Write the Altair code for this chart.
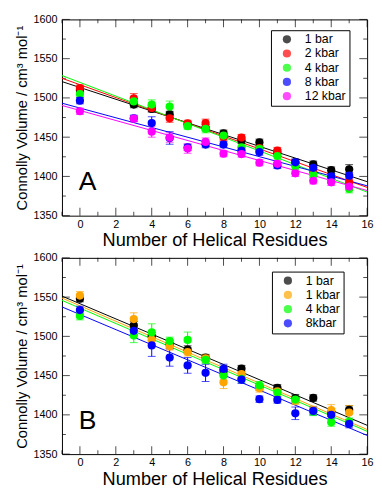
import altair as alt
import pandas as pd

# ---------------- data ----------------
residues = [0, 3, 4, 5, 6, 7, 8, 9, 10, 11, 12, 13, 14, 15]
fit_x = [-1, 16]

x_label_values = [0, 2, 4, 6, 8, 10, 12, 14, 16]
x_minor_values = [-1, 1, 3, 5, 7, 9, 11, 13, 15]
y_label_values = [1350, 1400, 1450, 1500, 1550, 1600]
y_minor_values = [1375, 1425, 1475, 1525, 1575]

# Panel A
a_series = ["1 bar", "2 kbar", "4 kbar", "8 kbar", "12 kbar"]
a_colors = ["#000000", "#ff0000", "#00ff00", "#0000ff", "#ff00ff"]
a_1bar = [1510, 1491.5, 1486, 1479, 1466, 1462, 1455, 1446, 1443.5, 1430, 1418, 1415.5, 1408, 1409]
a_2kbar = [1512.5, 1499.5, 1487, 1474, 1467.5, 1468, 1450, 1449.5, 1436, 1433, 1417, 1405, 1397, 1392.5]
a_4kbar = [1505, 1495.5, 1491.5, 1489, 1464, 1460.5, 1452, 1437, 1435, 1426, 1412.5, 1402, 1395, 1384]
a_8kbar = [1496.5, 1474, 1468, 1449, 1437, 1440.5, 1440.5, 1433, 1431, 1414, 1418, 1411, 1400, 1401]
a_12kbar = [1483, 1473.5, 1457, 1449.5, 1435.5, 1444, 1429, 1428.5, 1417.5, 1416, 1404, 1394.5, 1392.5, 1387]
a_err_1bar = [4, 4, 4, 4, 4, 4, 4, 4, 4, 4, 4, 4, 4, 6]
a_err_2kbar = [4, 6, 4, 5, 4, 5, 4, 4, 4, 4, 4, 4, 4, 4]
a_err_4kbar = [4, 5, 6, 7, 4, 5, 5, 7, 4, 4, 4, 4, 4, 5]
a_err_8kbar = [4, 4, 8, 8, 4, 4, 4, 4, 4, 4, 4, 4, 4, 4]
a_err_12kbar = [4, 4, 7, 6, 6, 5, 4, 4, 4, 4, 4, 4, 4, 4]
a_fit_start = [1520.8, 1525, 1528.5, 1493.3, 1490.4]
a_fit_end = [1393.3, 1386, 1380, 1388, 1382]

# Panel B
b_series = ["1 bar", "1 kbar", "4 kbar", "8kbar"]
b_colors = ["#000000", "#ffa500", "#00ff00", "#0000ff"]
b_1bar = [1548, 1514, 1500, 1490, 1483, 1473, 1456, 1459, 1435.5, 1434.5, 1421, 1421.5, 1403, 1406.5]
b_1kbar = [1552, 1522, 1496, 1487.5, 1480, 1472, 1441.5, 1452, 1434, 1430, 1418, 1406, 1406, 1403]
b_4kbar = [1526, 1501, 1505, 1494, 1495.5, 1470, 1450, 1446, 1437.5, 1428.5, 1419.5, 1404, 1390.5, 1391]
b_8kbar = [1533.5, 1507, 1488.5, 1473, 1463, 1453.5, 1458.5, 1445, 1420, 1419, 1402, 1405, 1400, 1388.5]
b_err_1bar = [4, 5, 5, 5, 5, 4, 5, 4, 4, 4, 5, 4, 5, 5]
b_err_1kbar = [5, 8, 5, 5, 5, 5, 8, 5, 5, 5, 5, 5, 7, 9]
b_err_4kbar = [5, 9, 11, 5, 10, 5, 6, 5, 5, 5, 5, 5, 5, 5]
b_err_8kbar = [5, 5, 14, 11, 10, 11, 6, 5, 4, 4, 8, 5, 5, 5]
b_fit_start = [1551.3, 1548.8, 1545.8, 1537.5]
b_fit_end = [1386.7, 1381.3, 1379, 1373.8]

y_title = "Connolly Volume / cm³ mol⁻¹"
x_title = "Number of Helical Residues"

W, H = 311, 200
FONT = "Liberation Sans"
MAJOR_LEN, MINOR_LEN = 8, 4


def make_panel(series, colors, values, errors, fit_start, fit_end, letter, leg_x, leg_y):
    rows = []
    for s, vals, errs in zip(series, values, errors):
        for x, v, e in zip(residues, vals, errs):
            rows.append({"series": s, "x": x, "y": v, "lo": v - e, "hi": v + e})
    pts = pd.DataFrame(rows)

    fit_rows = []
    for s, a, b in zip(series, fit_start, fit_end):
        fit_rows.append({"series": s, "x": fit_x[0], "y": a})
        fit_rows.append({"series": s, "x": fit_x[1], "y": b})
    fits = pd.DataFrame(fit_rows)

    xs = alt.Scale(domain=[fit_x[0], fit_x[1]], nice=False, zero=False)
    ys = alt.Scale(domain=[y_label_values[0], y_label_values[-1]], nice=False, zero=False)
    cs = alt.Scale(domain=series, range=colors)

    x_axis = alt.Axis(values=x_label_values, title=x_title, labelFlush=False, format="d",
                      labelPadding=3, titlePadding=1.5, labelFontSize=11, titleFontSize=18.5)
    y_axis = alt.Axis(values=y_label_values, title=y_title, labelFlush=False, format="d",
                      labelPadding=5, titlePadding=4, labelFontSize=11, titleFontSize=15)
    legend = alt.Legend(orient="none", legendX=leg_x, legendY=leg_y, title=None,
                        strokeColor="black", fillColor="white",
                        padding=3, symbolType="circle", symbolSize=70,
                        symbolOffset=7, labelOffset=12, rowPadding=1.5,
                        labelFontSize=12.5, labelFont=FONT, labelColor="black",
                        symbolStrokeWidth=0)

    X = alt.X("x:Q", scale=xs, axis=x_axis)
    Y = alt.Y("y:Q", scale=ys, axis=y_axis)
    C = alt.Color("series:N", scale=cs, legend=legend)

    # inward ticks on all four sides
    tick_layers = []
    for vals, ln in [(y_label_values, MAJOR_LEN), (y_minor_values, MINOR_LEN)]:
        for edge, sign in [(fit_x[0], 1), (fit_x[1], -1)]:
            df = pd.DataFrame({"x": [edge] * len(vals), "y": vals})
            tick_layers.append(
                alt.Chart(df).mark_tick(orient="horizontal", thickness=1, size=ln,
                                        color="black", xOffset=sign * ln / 2).encode(x=X, y=Y)
            )
    for vals, ln in [(x_label_values, MAJOR_LEN), (x_minor_values, MINOR_LEN)]:
        for edge, sign in [(y_label_values[-1], 1), (y_label_values[0], -1)]:
            df = pd.DataFrame({"x": vals, "y": [edge] * len(vals)})
            tick_layers.append(
                alt.Chart(df).mark_tick(orient="vertical", thickness=1, size=ln,
                                        color="black", yOffset=sign * ln / 2).encode(x=X, y=Y)
            )

    lines = alt.Chart(fits).mark_line(strokeWidth=1).encode(x=X, y=Y, color=C, detail="series:N")
    bars = alt.Chart(pts).mark_rule(strokeWidth=1).encode(
        x=X, y=alt.Y("lo:Q", scale=ys, axis=y_axis), y2="hi:Q", color=C,
    )
    caps_lo = alt.Chart(pts).mark_tick(orient="horizontal", size=8, thickness=1).encode(
        x=X, y=alt.Y("lo:Q", scale=ys, axis=y_axis), color=C,
    )
    caps_hi = alt.Chart(pts).mark_tick(orient="horizontal", size=8, thickness=1).encode(
        x=X, y=alt.Y("hi:Q", scale=ys, axis=y_axis), color=C,
    )
    points = alt.Chart(pts).mark_circle(size=70, opacity=1).encode(x=X, y=Y, color=C)
    label = alt.Chart(pd.DataFrame({"t": [letter]})).mark_text(
        fontSize=27, align="left", baseline="alphabetic", color="black", font=FONT
    ).encode(x=alt.value(17), y=alt.value(174), text="t:N")

    return alt.layer(*tick_layers, lines, bars, caps_lo, caps_hi, points, label).properties(
        width=W, height=H
    )


panel_a = make_panel(a_series, a_colors,
                     [a_1bar, a_2kbar, a_4kbar, a_8kbar, a_12kbar],
                     [a_err_1bar, a_err_2kbar, a_err_4kbar, a_err_8kbar, a_err_12kbar],
                     a_fit_start, a_fit_end, "A", 213, 11)
panel_b = make_panel(b_series, b_colors,
                     [b_1bar, b_1kbar, b_4kbar, b_8kbar],
                     [b_err_1bar, b_err_1kbar, b_err_4kbar, b_err_8kbar],
                     b_fit_start, b_fit_end, "B", 214, 14)

chart = (
    alt.vconcat(panel_a, panel_b, spacing=1)
    .resolve_scale(color="independent")
    .properties(padding={"left": 6, "top": 0, "right": 0, "bottom": 0})
    .configure(font=FONT)
    .configure_view(stroke="black", strokeWidth=1)
    .configure_axis(grid=False, domain=False, ticks=False, labelColor="black",
                    titleColor="black", titleFontWeight="normal", labelFont=FONT, titleFont=FONT)
)

chart.save("out.html", embed_options={"renderer": "svg", "actions": False})
